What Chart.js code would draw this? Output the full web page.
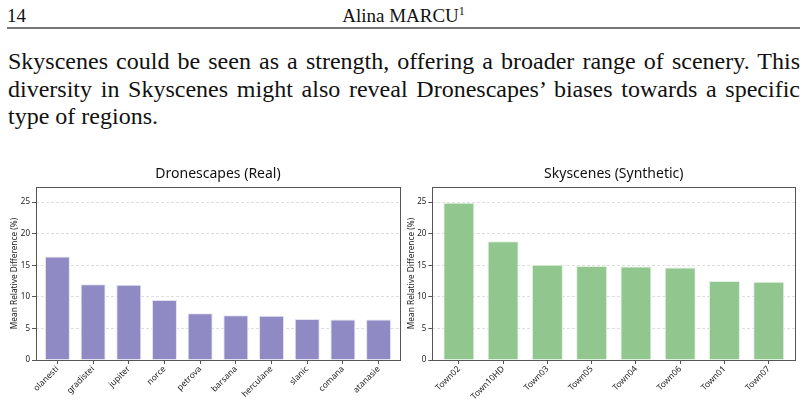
<!DOCTYPE html>
<html>
<head>
<meta charset="utf-8">
<script src="https://cdn.jsdelivr.net/npm/chart.js@4.4.0/dist/chart.umd.min.js"></script>
<style>
  html, body { margin: 0; padding: 0; background: #fff; }
  body { width: 806px; height: 402px; position: relative; overflow: hidden; font-family: "Liberation Serif", "DejaVu Serif", serif; color: #111; }
  .head { position: absolute; left: 7px; right: 6px; top: 0; height: 27px; border-bottom: 2px solid #777; font-size: 19px; line-height: 21px; }
  .head .num { position: absolute; left: 0; top: 5px; }
  .head .author { position: absolute; left: 0; right: 0; top: 5px; text-align: center; }
  .head sup { font-size: 12px; line-height: 0; }
  .para { position: absolute; left: 8px; width: 792px; top: 48px; font-size: 24px; line-height: 27.5px; }
  .para div { text-align: justify; text-align-last: justify; white-space: nowrap; }
  .para div.last { text-align: left; text-align-last: left; }
  .chart { position: absolute; top: 150px; height: 252px; }
</style>
</head>
<body>
<div class="head"><span class="num">14</span><div class="author">Alina MARCU<sup>1</sup></div></div>
<div class="para">
  <div>Skyscenes could be seen as a strength, offering a broader range of scenery. This</div>
  <div>diversity in Skyscenes might also reveal Dronescapes’ biases towards a specific</div>
  <div class="last">type of regions.</div>
</div>
<div class="chart" style="left:0;width:403px"><canvas id="realChart" width="403" height="252"></canvas></div>
<div class="chart" style="left:403px;width:403px"><canvas id="synthChart" width="403" height="252"></canvas></div>
<script>
// Dronescapes (Real)
const realRegions = ['olanesti', 'gradistei', 'jupiter', 'norce', 'petrova', 'barsana', 'herculane', 'slanic', 'comana', 'atanasie'];
const realValues = [16.4, 12.0, 11.9, 9.5, 7.4, 7.1, 7.0, 6.5, 6.4, 6.4];

// Skyscenes (Synthetic)
const synthTowns = ['Town02', 'Town10HD', 'Town03', 'Town05', 'Town04', 'Town06', 'Town01', 'Town07'];
const synthValues = [24.9, 18.8, 15.1, 14.9, 14.8, 14.65, 12.5, 12.4];

const yTicks = [0, 5, 10, 15, 20, 25];
const yMax = 27.4;

const sans = 'Noto Sans';

// box around the plot area + title centred over it (matplotlib style)
const framePlugin = {
    id: 'frame',
    afterDraw(chart, args, opts) {
        const a = chart.chartArea;
        const ctx = chart.ctx;
        ctx.save();
        ctx.strokeStyle = '#555';
        ctx.lineWidth = 1;
        ctx.strokeRect(Math.round(a.left) + 0.5, Math.round(a.top) + 0.5, Math.round(a.right - a.left), Math.round(a.bottom - a.top));
        ctx.fillStyle = '#111';
        ctx.font = '14px "' + sans + '"';
        ctx.textAlign = 'center';
        ctx.textBaseline = 'alphabetic';
        ctx.fillText(opts.text, (a.left + a.right) / 2, 28);
        ctx.restore();
    }
};

function makeChart(id, title, labels, values, color, edge, leftW, rightPad, titlePad) {
    return new Chart(document.getElementById(id), {
        type: 'bar',
        data: {
            datasets: [{
                data: values.map((v, i) => ({ x: i, y: v })),
                backgroundColor: color,
                borderColor: edge,
                borderWidth: 1,
                barPercentage: 0.7,
                categoryPercentage: 1.0
            }]
        },
        options: {
            responsive: false,
            animation: false,
            layout: { padding: { top: 37, right: rightPad, left: 0, bottom: 0 } },
            plugins: {
                legend: { display: false },
                tooltip: { enabled: false },
                frame: { text: title }
            },
            scales: {
                x: {
                    type: 'linear',
                    offset: false,
                    min: -0.6,
                    max: labels.length - 0.4,
                    afterBuildTicks(scale) { scale.ticks = labels.map((_, i) => ({ value: i })); },
                    grid: { display: true, offset: false, drawOnChartArea: false, drawTicks: true, tickLength: 4, color: '#555' },
                    border: { display: false },
                    ticks: {
                        color: '#222',
                        font: { family: sans, size: 8.5 },
                        minRotation: 45,
                        maxRotation: 45,
                        autoSkip: false,
                        padding: 0,
                        callback: (v) => labels[v]
                    },
                    afterFit(scale) { scale.height = 42; }
                },
                y: {
                    min: 0,
                    max: yMax,
                    afterBuildTicks(scale) { scale.ticks = yTicks.map(v => ({ value: v })); },
                    grid: {
                        color: '#dedede',
                        tickColor: '#555',
                        tickLength: 4,
                        tickBorderDash: [],
                        drawTicks: true
                    },
                    border: { display: false, dash: [3, 2] },
                    ticks: { color: '#222', font: { family: sans, size: 8 }, padding: 2 },
                    title: {
                        display: true,
                        text: 'Mean Relative Difference (%)',
                        color: '#222',
                        font: { family: sans, size: 8.3 },
                        padding: { top: titlePad, bottom: 0 }
                    },
                    afterFit(scale) { scale.width = leftW; }
                }
            }
        },
        plugins: [framePlugin]
    });
}

makeChart('realChart', 'Dronescapes (Real)', realRegions, realValues, '#8f8ac4', '#e4e2f1', 36, 3, 9.5);
makeChart('synthChart', 'Skyscenes (Synthetic)', synthTowns, synthValues, '#91c68f', '#e2f1e1', 29.3, 10.7, 3.5);
</script>
</body>
</html>
